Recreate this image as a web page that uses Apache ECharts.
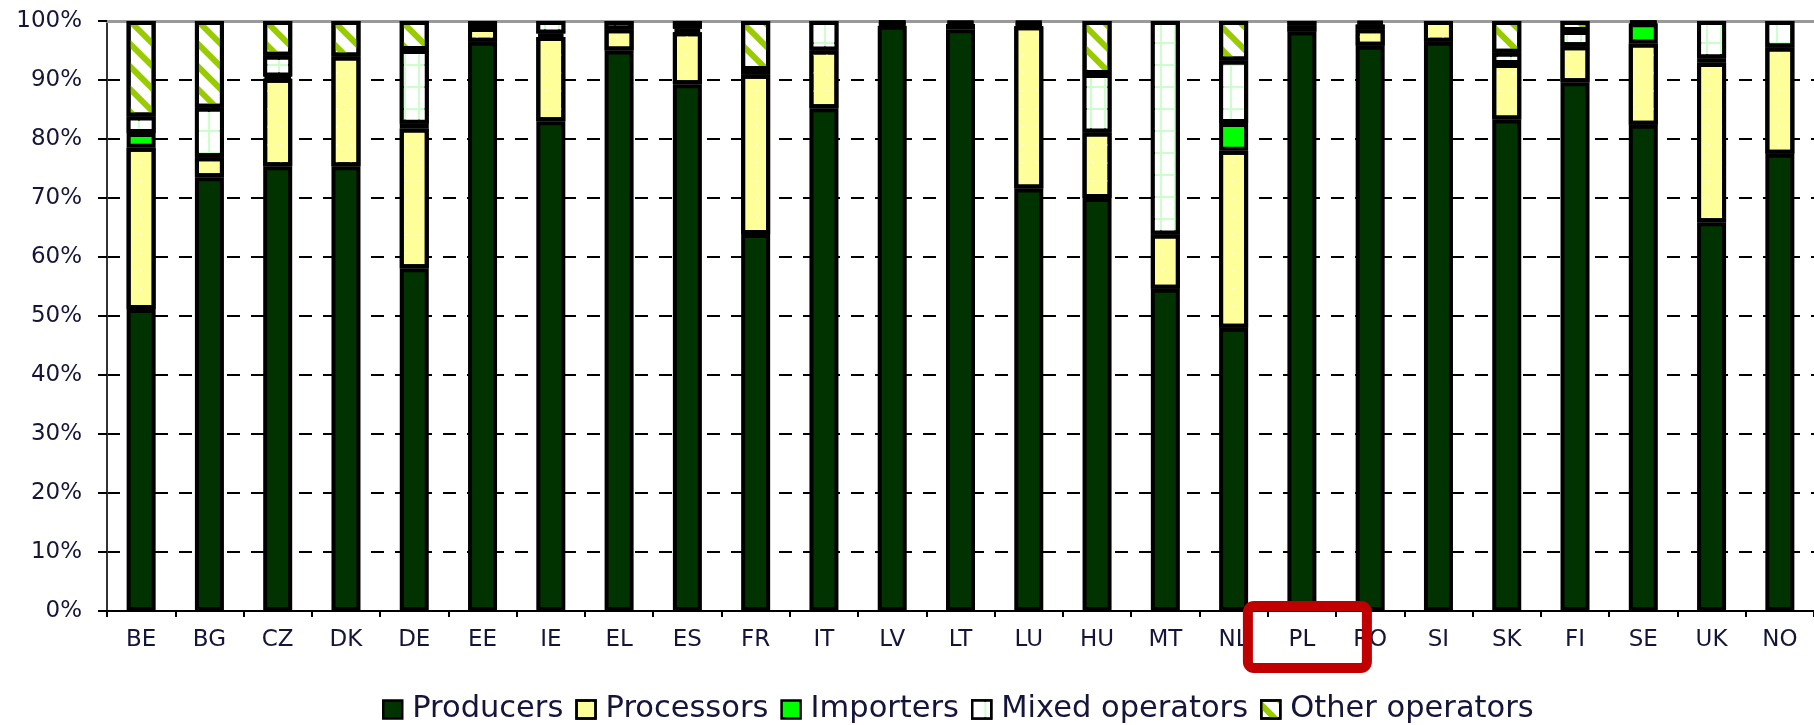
<!DOCTYPE html>
<html>
<head>
<meta charset="utf-8">
<script src="https://cdn.jsdelivr.net/npm/echarts@6/dist/echarts.min.js"></script>
<style>
html,body{margin:0;padding:0;background:#fff;}
#chart{width:1814px;height:725px;}
</style>
</head>
<body>
<div id="chart"></div>
<script>
const categories = ['BE','BG','CZ','DK','DE','EE','IE','EL','ES','FR','IT','LV','LT','LU','HU','MT','NL','PL','RO','SI','SK','FI','SE','UK','NO'];
const producers  = [51.2,73.5,75.4,75.4,58.1,96.5,83.0,95.0,89.3,63.9,85.2,99.2,98.6,71.6,70.0,54.6,48.0,98.2,95.8,96.5,83.3,89.6,82.4,65.9,77.5];
const processors = [27.3, 3.4,14.8,18.6,23.7, 2.3,14.3, 3.6, 8.8,27.0, 9.8, 0.4, 0.9,27.5,11.1, 9.2,30.0, 0.0, 2.8, 3.5, 9.4, 6.1,13.8,27.0,18.0];
const importers  = [ 2.5, 0.0, 0.4, 0.0, 0.8, 0.0, 0.6, 0.0, 0.0, 0.0, 0.0, 0.0, 0.0, 0.4, 0.0, 0.0, 4.7, 0.0, 0.0, 0.0, 0.0, 0.0, 3.4, 0.8, 0.0];
const mixed      = [ 2.8, 8.4, 3.5, 0.0,12.5, 1.2, 2.1, 1.4, 0.6, 0.8, 5.0, 0.4, 0.5, 0.5, 9.9,36.2,10.6, 1.0, 0.8, 0.0, 1.9, 2.6, 0.4, 6.3, 4.5];
const other      = [16.2,14.7, 5.9, 6.0, 4.9, 0.0, 0.0, 0.0, 1.3, 8.3, 0.0, 0.0, 0.0, 0.0, 9.0, 0.0, 6.7, 0.8, 0.6, 0.0, 5.4, 1.7, 0.0, 0.0, 0.0];
const seriesNames = ['Producers','Processors','Importers','Mixed operators','Other operators'];
const yTicks = [0,10,20,30,40,50,60,70,80,90,100];
const highlighted = 'PL';

const FONT = 'DejaVu Sans';
const TXT = '#15153a';
const nz = arr => arr.map(v => v === 0 ? null : v);

const styles = [
  {color:'#003300'},
  {color:'#ffff99', decal:{symbol:'circle', color:'#ffffff', symbolSize:1, dashArrayX:[[2,12]], dashArrayY:[2,16]}},
  {color:'#00ff00'},
  {color:'#ccffcc', decal:{symbol:'rect', color:'#ffffff', symbolSize:1, dashArrayX:[12,2], dashArrayY:[20,2]}},
  {color:'#ffffff', decal:{symbol:'rect', color:'#99cc00', symbolSize:1, dashArrayX:[1,0], dashArrayY:[6,9.5], rotation:Math.PI/4}}
];
const dataArr = [producers, processors, importers, mixed, other];

const chart = echarts.init(document.getElementById('chart'), null, {renderer:'canvas'});
const option = {
  animation:false,
  backgroundColor:'#ffffff',
  grid:{left:107, top:21, width:1712, bottom:114, containLabel:false},
  legend:{
    data:seriesNames, left:377, top:689, itemWidth:19, itemHeight:18, itemGap:12,
    icon:'rect',
    itemStyle:{borderColor:'#000', borderWidth:2.5},
    textStyle:{fontFamily:FONT, fontSize:30.5, color:TXT, padding:[0,0,0,5]}
  },
  xAxis:[{
    type:'category', data:categories, boundaryGap:true,
    axisLine:{show:true, lineStyle:{color:'#000', width:2}},
    axisTick:{show:true, length:6, lineStyle:{color:'#000', width:2}},
    axisLabel:{fontFamily:FONT, fontSize:23, color:TXT, margin:18}
  },{
    type:'category', data:categories, position:'top',
    axisLine:{show:true, lineStyle:{color:'#999999', width:3}},
    axisTick:{show:false}, axisLabel:{show:false}
  }],
  yAxis:{
    type:'value', min:yTicks[0], max:yTicks[yTicks.length-1], interval:10,
    axisLine:{show:true, lineStyle:{color:'#333', width:2}},
    axisTick:{show:true, inside:false, length:9, lineStyle:{color:'#000', width:2}},
    axisLabel:{formatter:'{value}%', fontFamily:FONT, fontSize:23, color:TXT, margin:25},
    splitLine:{show:true, lineStyle:{color:'#000', width:2, type:[13,11]}}
  },
  series: seriesNames.map((n,i)=>({
    name:n, type:'bar', stack:'total', xAxisIndex:0, barWidth:29,
    data:nz(dataArr[i]),
    itemStyle:Object.assign({borderColor:'#000', borderWidth:4}, styles[i]),
    emphasis:{disabled:true}, z:3
  }))
};
chart.setOption(option);

const px = chart.convertToPixel({xAxisIndex:0}, highlighted);
const py0 = chart.convertToPixel({yAxisIndex:0}, 0);
chart.setOption({
  graphic:[{
    type:'rect', z:100,
    shape:{x:px-54, y:py0-5, width:119, height:62, r:6},
    style:{fill:'none', stroke:'#c00000', lineWidth:10}
  }]
});
</script>
</body>
</html>
